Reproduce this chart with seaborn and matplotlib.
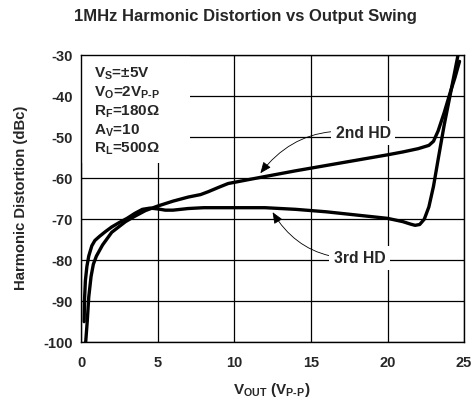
import numpy as np
import pandas as pd
import matplotlib
matplotlib.use("Agg")
import matplotlib.pyplot as plt
import matplotlib.patches as mpatches
import seaborn as sns

# curves
vout_2nd = [0.3, 0.4, 0.5, 0.65, 0.8, 1.0, 1.4, 2.0, 2.9, 3.5, 4.2, 5.0, 6.0, 7.0, 7.8, 8.3,
            9.0, 9.6, 11.0, 12.0, 14.0, 16.0, 18.0, 20.0, 21.0, 22.0, 22.7, 23.0, 23.3,
            23.7, 24.1, 24.4, 24.7]
hd_2nd = [-100, -95, -89, -84, -81, -79, -76.3, -73.2, -70.6, -69.3, -67.9, -66.8, -65.6,
          -64.6, -64.0, -63.3, -62.2, -61.3, -60.3, -59.6, -58.2, -56.9, -55.6, -54.3,
          -53.6, -52.8, -52.0, -51.0, -48.5, -44.0, -39.0, -35.5, -31.5]

vout_3rd = [0.2, 0.22, 0.28, 0.38, 0.5, 0.7, 0.9, 1.2, 1.6, 2.0, 2.5, 3.0, 3.5, 4.0, 4.5,
            5.0, 5.5, 6.0, 7.0, 8.0, 10.0, 12.0, 14.0, 16.0, 18.0, 20.0, 21.0, 21.5, 21.8,
            22.1, 22.4, 22.7, 23.0, 23.3, 23.7, 24.1, 24.6]
hd_3rd = [-95, -90, -85, -81.5, -79, -76.5, -75.2, -74.2, -73.0, -71.9, -70.8, -69.8, -68.6,
          -67.6, -67.3, -67.5, -67.8, -67.8, -67.4, -67.2, -67.2, -67.2, -67.6, -68.2, -69.0,
          -69.8, -70.6, -71.2, -71.5, -71.3, -70.0, -67.0, -62.0, -55.5, -47.0, -39.5, -30.0]

x_ticks = [0, 5, 10, 15, 20, 25]
y_ticks = [-100, -90, -80, -70, -60, -50, -40, -30]

conditions = ["V$_{S}$=±5V", "V$_{O}$=2V$_{\\text{P-P}}$", "R$_{F}$=180Ω",
              "A$_{V}$=10", "R$_{L}$=500Ω"]

sns.set_style("white")
plt.rcParams["font.family"] = ["Liberation Sans", "DejaVu Sans"]
plt.rcParams["font.weight"] = "bold"
plt.rcParams["mathtext.fontset"] = "custom"
plt.rcParams["mathtext.rm"] = "Liberation Sans:bold"
plt.rcParams["mathtext.it"] = "Liberation Sans:bold"
plt.rcParams["mathtext.bf"] = "Liberation Sans:bold"
plt.rcParams["axes.unicode_minus"] = False

df2 = pd.DataFrame({"vout": vout_2nd, "hd": hd_2nd})
df3 = pd.DataFrame({"vout": vout_3rd, "hd": hd_3rd})

fig = plt.figure(figsize=(4.77, 4.03), dpi=100)
ax = fig.add_axes([0.170, 0.151, 0.803, 0.712])

sns.lineplot(data=df2, x="vout", y="hd", ax=ax, color="black", lw=2.4, estimator=None, zorder=3)
sns.lineplot(data=df3, x="vout", y="hd", ax=ax, color="black", lw=2.4, estimator=None, zorder=3)

ax.set_xlim(0, 25)
ax.set_ylim(-100, -30)
ax.set_xticks(x_ticks)
ax.set_yticks(y_ticks)
ax.grid(True, color="black", lw=0.9)
ax.set_axisbelow(True)
for s in ax.spines.values():
    s.set_color("black")
    s.set_linewidth(1.0)
ax.tick_params(axis="x", length=0, pad=10, labelsize=10.5)
ax.tick_params(axis="y", length=0, pad=6, labelsize=10.5)
for lab in ax.get_xticklabels() + ax.get_yticklabels():
    lab.set_fontweight("bold")

ax.set_xlabel("V$_{OUT}$ (V$_{\\text{P-P}}$)", fontsize=11, fontweight="bold")
ax.set_ylabel("Harmonic Distortion (dBc)", fontsize=10.7, fontweight="bold")
ax.xaxis.set_label_coords(0.497, -0.136)
ax.yaxis.set_label_coords(-0.138, 0.502)

fig.text(0.514, 0.96, "1MHz Harmonic Distortion vs Output Swing", ha="center", va="center",
         fontsize=12, fontweight="bold")

# white block behind the test conditions
ax.add_patch(mpatches.Rectangle((0, 0.624), 0.284, 0.376, transform=ax.transAxes,
                                facecolor="white", edgecolor="none", zorder=1.5))
for i, line in enumerate(conditions):
    ax.text(0.034, 0.923 - i * 0.066, line, transform=ax.transAxes, fontsize=11,
            fontweight="bold", va="baseline", ha="left", zorder=4)

box = dict(boxstyle="square,pad=0.3", fc="white", ec="none")
ax.annotate("2nd HD", xy=(11.7, -58.8), xytext=(18.4, -49), fontsize=11.3, fontweight="bold",
            ha="center", va="center", bbox=box, zorder=4,
            arrowprops=dict(arrowstyle="-|>,head_length=0.6,head_width=0.25", color="black",
                            lw=0.6, connectionstyle="arc3,rad=0.3", shrinkA=0, shrinkB=0))
ax.annotate("3rd HD", xy=(12.5, -68.3), xytext=(18.2, -79.5), fontsize=11.3, fontweight="bold",
            ha="center", va="center", bbox=box, zorder=4,
            arrowprops=dict(arrowstyle="-|>,head_length=0.6,head_width=0.25", color="black",
                            lw=0.6, connectionstyle="arc3,rad=-0.3", shrinkA=0, shrinkB=0))

fig.savefig("out.png", dpi=100)
